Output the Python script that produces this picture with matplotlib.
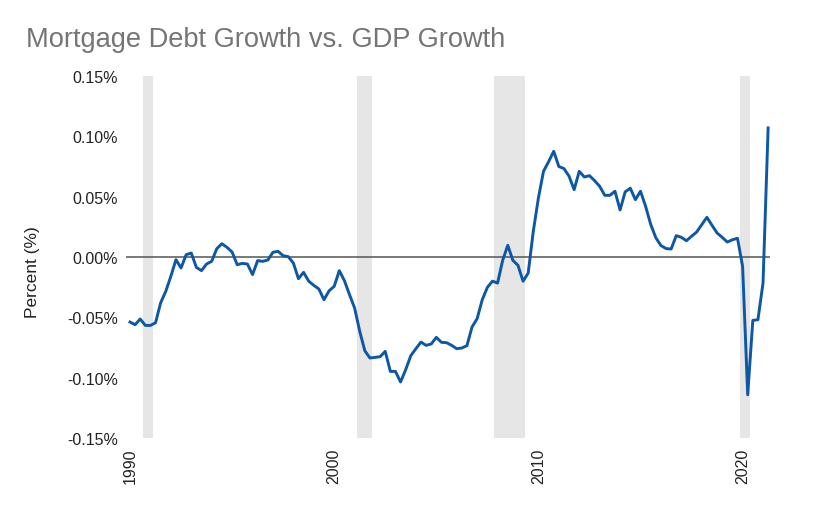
import matplotlib
matplotlib.use("Agg")
import matplotlib.pyplot as plt
import numpy as np

plt.rcParams['font.family'] = ['Liberation Sans', 'DejaVu Sans']

# quarterly spread, 1990Q1 .. 2021Q2 (percent)
start_year = 1990
spread = [
    -0.0539, -0.0561, -0.0514, -0.0567, -0.0567, -0.0545, -0.0380, -0.0285,
    -0.0160, -0.0022, -0.0091, 0.0019, 0.0033, -0.0086, -0.0113, -0.0058,
    -0.0036, 0.0069, 0.0110, 0.0080, 0.0041, -0.0064, -0.0053, -0.0058,
    -0.0146, -0.0030, -0.0036, -0.0025, 0.0039, 0.0047, 0.0011, 0.0003,
    -0.0050, -0.0180, -0.0127, -0.0200, -0.0235, -0.0265, -0.0354, -0.0280,
    -0.0243, -0.0113, -0.0196, -0.0312, -0.0423, -0.0616, -0.0777, -0.0837,
    -0.0832, -0.0826, -0.0782, -0.0948, -0.0948, -0.1036, -0.0934, -0.0818,
    -0.0760, -0.0705, -0.0732, -0.0721, -0.0666, -0.0707, -0.0710, -0.0732,
    -0.0760, -0.0754, -0.0735, -0.0580, -0.0511, -0.0354, -0.0252, -0.0200,
    -0.0216, -0.0028, 0.0097, -0.0028, -0.0069, -0.0201, -0.0133, 0.0213,
    0.0489, 0.0710, 0.0790, 0.0876, 0.0750, 0.0733, 0.0670, 0.0558,
    0.0710, 0.0663, 0.0674, 0.0633, 0.0586, 0.0511, 0.0511, 0.0545,
    0.0390, 0.0540, 0.0570, 0.0475, 0.0545, 0.0420, 0.0270, 0.0160,
    0.0095, 0.0070, 0.0066, 0.0177, 0.0163, 0.0135, 0.0172, 0.0207,
    0.0268, 0.0329, 0.0263, 0.0199, 0.0163, 0.0124, 0.0143, 0.0155,
    -0.0077, -0.1142, -0.0525, -0.0520, -0.0216, 0.1070,
]
recessions = [(1990.62, 1991.11), (2001.11, 2001.86), (2007.84, 2009.36), (2019.87, 2020.36)]
xticks = [1990, 2000, 2010, 2020]
yticks = [-0.15, -0.10, -0.05, 0.0, 0.05, 0.10, 0.15]

years = start_year + np.arange(len(spread)) * 0.25

W, H = 825, 510
fig = plt.figure(figsize=(W / 100, H / 100), dpi=100)
# axes box in pixels: left 126, right 770, top 77, bottom 439
ax = fig.add_axes([126 / W, 1 - 439 / H, (770 - 126) / W, (439 - 77) / H])

px_per_year = 20.42
ax.set_xlim(1990 + (126 - 130) / px_per_year, 1990 + (770 - 130) / px_per_year)
ax.set_ylim(-0.15, 0.15)

for a, b in recessions:
    ax.axvspan(a, b, color='#e6e6e6', lw=0, zorder=0)

ax.axhline(0, color='#555555', lw=1.1, zorder=1)
ax.plot(years, spread, color='#0d57a7', lw=2.1, zorder=3, solid_joinstyle='round')

for s in ax.spines.values():
    s.set_visible(False)

ax.set_yticks(yticks)
ax.set_yticklabels(['%.2f%%' % v for v in yticks])
ax.set_xticks(xticks)
ax.set_xticklabels([str(v) for v in xticks], rotation=90)
ax.tick_params(axis='y', length=0, pad=6, labelsize=11.5, labelcolor='#222222')
ax.tick_params(axis='x', length=0, pad=7, labelsize=11.5, labelcolor='#222222')

fig.text(33 / W, 1 - 272 / H, 'Percent (%)', rotation=90, ha='center', va='center',
         fontsize=12.5, color='#222222')
fig.text(26 / W, 1 - 46.7 / H, 'Mortgage Debt Growth vs. GDP Growth', ha='left',
         va='baseline', fontsize=19.6, color='#757575')

fig.savefig('out.png', dpi=100)
